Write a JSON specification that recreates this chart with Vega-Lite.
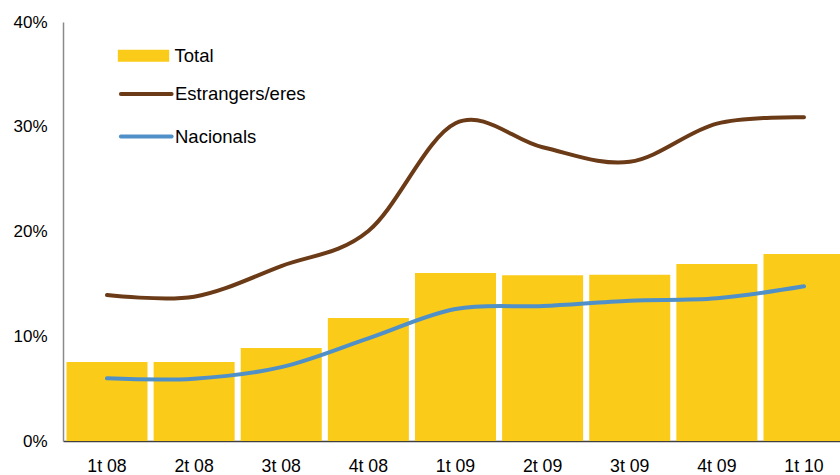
{
  "$schema": "https://vega.github.io/schema/vega-lite/v6.json",
  "width": 777,
  "height": 419,
  "autosize": {"type": "none"},
  "padding": {"left": 63, "top": 22, "right": 0, "bottom": 34},
  "background": "white",
  "config": {"view": {"stroke": null}, "font": "Liberation Sans"},
  "datasets": {
    "total": [
      {"q": "1t 08", "serie": "Total", "v": 7.54},
      {"q": "2t 08", "serie": "Total", "v": 7.54},
      {"q": "3t 08", "serie": "Total", "v": 8.88},
      {"q": "4t 08", "serie": "Total", "v": 11.74},
      {"q": "1t 09", "serie": "Total", "v": 16.04},
      {"q": "2t 09", "serie": "Total", "v": 15.82},
      {"q": "3t 09", "serie": "Total", "v": 15.88},
      {"q": "4t 09", "serie": "Total", "v": 16.9},
      {"q": "1t 10", "serie": "Total", "v": 17.85}
    ],
    "lines": [
      {"q": "1t 08", "serie": "Estrangers/eres", "v": 13.94},
      {"q": "2t 08", "serie": "Estrangers/eres", "v": 13.78},
      {"q": "3t 08", "serie": "Estrangers/eres", "v": 16.7},
      {"q": "4t 08", "serie": "Estrangers/eres", "v": 20.05},
      {"q": "1t 09", "serie": "Estrangers/eres", "v": 30.33},
      {"q": "2t 09", "serie": "Estrangers/eres", "v": 28.04},
      {"q": "3t 09", "serie": "Estrangers/eres", "v": 26.65},
      {"q": "4t 09", "serie": "Estrangers/eres", "v": 30.3},
      {"q": "1t 10", "serie": "Estrangers/eres", "v": 30.9},
      {"q": "1t 08", "serie": "Nacionals", "v": 5.98},
      {"q": "2t 08", "serie": "Nacionals", "v": 5.95},
      {"q": "3t 08", "serie": "Nacionals", "v": 7.05},
      {"q": "4t 08", "serie": "Nacionals", "v": 9.8},
      {"q": "1t 09", "serie": "Nacionals", "v": 12.6},
      {"q": "2t 09", "serie": "Nacionals", "v": 12.89},
      {"q": "3t 09", "serie": "Nacionals", "v": 13.4},
      {"q": "4t 09", "serie": "Nacionals", "v": 13.62},
      {"q": "1t 10", "serie": "Nacionals", "v": 14.77}
    ]
  },
  "encoding": {
    "x": {
      "field": "q",
      "type": "nominal",
      "scale": {
        "domain": ["1t 08", "2t 08", "3t 08", "4t 08", "1t 09", "2t 09", "3t 09", "4t 09", "1t 10"],
        "range": [0, 785],
        "paddingInner": 0.07,
        "paddingOuter": 0.04
      },
      "axis": {
        "title": null,
        "labelAngle": 0,
        "ticks": false,
        "tickSize": 0,
        "labelPadding": 16.5,
        "labelFontSize": 17.7,
        "labelFont": "Liberation Sans",
        "labelColor": "#000000",
        "domainColor": "#404040",
        "domainWidth": 1.5,
        "grid": false
      }
    },
    "y": {
      "field": "v",
      "type": "quantitative",
      "scale": {"domain": [0, 40], "nice": false},
      "axis": {
        "title": null,
        "values": [0, 10, 20, 30, 40],
        "labelExpr": "datum.value + '%'",
        "ticks": false,
        "tickSize": 0,
        "labelPadding": 16,
        "labelFontSize": 17,
        "labelFont": "Liberation Sans",
        "labelColor": "#000000",
        "domainColor": "#8a8a8a",
        "domainWidth": 1.5,
        "grid": false
      }
    }
  },
  "layer": [
    {
      "data": {"name": "total"},
      "mark": {"type": "bar"},
      "encoding": {
        "fill": {
          "field": "serie",
          "type": "nominal",
          "scale": {"domain": ["Total"], "range": ["#FBCB19"]},
          "legend": {
            "title": null,
            "orient": "none",
            "legendX": 68,
            "legendY": 21.3,
            "padding": 0,
            "symbolSize": 169,
            "labelOffset": 18.5,
            "labelFontSize": 18.5,
            "labelFont": "Liberation Sans",
            "labelColor": "#000000",
            "labelBaseline": "middle",
            "encode": {
              "symbols": {
                "update": {
                  "shape": {"value": "M-3.95,0H3.95"},
                  "fill": {"value": "transparent"},
                  "stroke": {"value": "#FBCB19"},
                  "strokeWidth": {"value": 12},
                  "strokeCap": {"value": "butt"},
                  "size": {"value": 169},
                  "opacity": {"value": 1}
                }
              }
            }
          }
        }
      }
    },
    {
      "data": {"name": "lines"},
      "mark": {"type": "line", "interpolate": "cardinal", "strokeWidth": 4, "strokeCap": "round"},
      "encoding": {
        "stroke": {
          "field": "serie",
          "type": "nominal",
          "scale": {"domain": ["Estrangers/eres", "Nacionals"], "range": ["#6B3A17", "#5090C8"]},
          "legend": {
            "title": null,
            "orient": "none",
            "legendX": 74,
            "legendY": 62.8,
            "padding": 0,
            "rowPadding": 23.5,
            "symbolSize": 169,
            "labelOffset": 19.5,
            "labelFontSize": 18.5,
            "labelFont": "Liberation Sans",
            "labelColor": "#000000",
            "labelBaseline": "middle",
            "encode": {
              "symbols": {
                "update": {
                  "shape": {"value": "M-3.9,0H3.9"},
                  "fill": {"value": "transparent"},
                  "strokeWidth": {"value": 4},
                  "strokeCap": {"value": "round"},
                  "size": {"value": 169},
                  "opacity": {"value": 1}
                }
              }
            }
          }
        }
      }
    }
  ]
}
